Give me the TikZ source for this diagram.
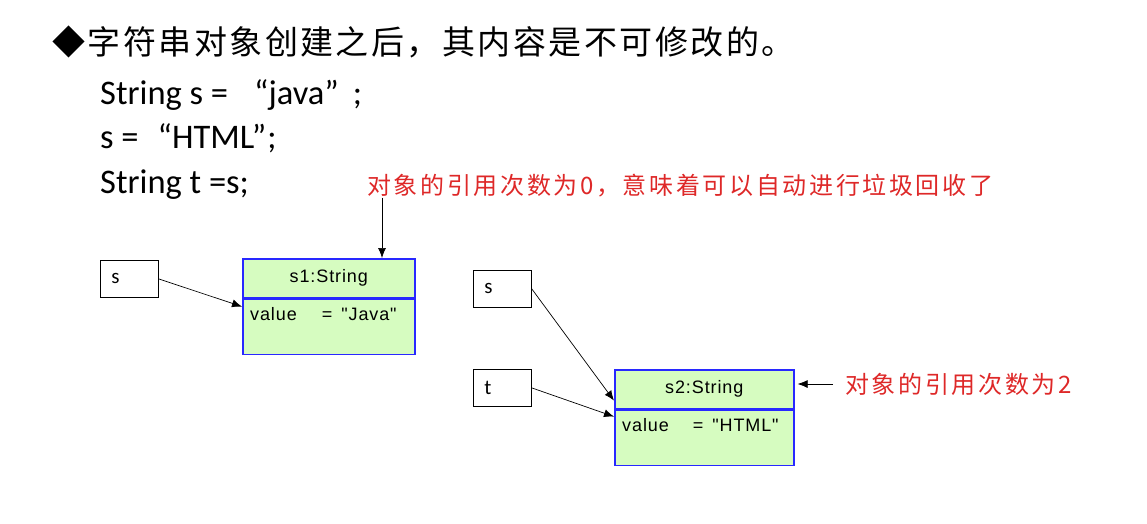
\documentclass[tikz,border=0pt]{standalone}
\usepackage{fontspec}
\setmainfont{Carlito}
\newfontfamily\cjk{Noto Sans CJK SC}
\newfontfamily\cjkwide[LetterSpace=11]{Noto Sans CJK SC}
\newfontfamily\cjktitle[LetterSpace=7.5]{Noto Sans CJK SC}
\newfontfamily\arial[LetterSpace=5]{Liberation Sans}
\usetikzlibrary{positioning,arrows.meta}
\definecolor{objblue}{RGB}{40,40,255}
\definecolor{objgreen}{RGB}{214,252,192}
\definecolor{notered}{RGB}{222,40,40}

\tikzset{
  varbox/.style={draw,line width=0.8pt,minimum width=58pt,minimum height=37pt,inner xsep=11pt,
    text width=36pt,align=left,font=\fontsize{21}{24}\selectfont},
  objhead/.style={draw=objblue,fill=objgreen,line width=1.6pt,minimum height=39pt,
    font=\arial\fontsize{18}{20}\selectfont},
  objbody/.style={draw=objblue,fill=objgreen,line width=1.6pt,minimum height=55pt,anchor=north},
  objval/.style={anchor=west,inner sep=0pt,font=\arial\fontsize{18}{20}\selectfont},
  codeline/.style={anchor=west,inner sep=0pt,font=\fontsize{34.5}{38}\selectfont},
  note/.style={anchor=west,inner sep=0pt,text=notered,font=\cjkwide\fontsize{24}{28}\selectfont},
  ref/.style={-{Latex[length=10pt,width=8pt]},line width=0.7pt}
}

\begin{document}
\begin{tikzpicture}[x=1pt,y=-1pt]
  \useasboundingbox (0,0) rectangle (1147,523);
  % heading and code
  \node [anchor=west,inner sep=0pt,font=\cjktitle\fontsize{33}{40}\selectfont] (title) at (52,42)
    {◆字符串对象创建之后，其内容是不可修改的。};
  \node [codeline] (code1) at (100,95) {String s =\hspace{26pt}“java”\hspace{14pt};};
  \node [codeline] (code2) at (100,138) {s =\hspace{19pt}“HTML”\hspace{1pt};};
  \node [codeline] (code3) at (100,185) {String t =s;};

  % first object
  \node [varbox,anchor=north west] (sL) at (100,260) {s};
  \node [objhead,minimum width=172pt,anchor=north west] (s1head) at (242,258) {s1:String};
  \node [objbody,minimum width=172pt] (s1body) at (s1head.south) {};
  \node [objval] (s1val) at ([xshift=8pt,yshift=-15pt]s1body.north west) {value\hspace{25pt}=\hspace{9pt}"Java"};
  \draw [ref] (sL.east) -- ([yshift=-8pt]s1body.north west);

  % second object
  \node [varbox,anchor=north west] (sR) at (473,270) {s};
  \node [varbox,anchor=north west] (tR) at (473,369) {t};
  \node [objhead,minimum width=179pt,anchor=north west] (s2head) at (614,369) {s2:String};
  \node [objbody,minimum width=179pt] (s2body) at (s2head.south) {};
  \node [objval] (s2val) at ([xshift=8pt,yshift=-15pt]s2body.north west) {value\hspace{24pt}=\hspace{9pt}"HTML"};
  \draw [ref] (sR.east) -- ([yshift=9pt]s2body.north west);
  \draw [ref] (tR.east) -- ([yshift=-7pt]s2body.north west);

  % notes
  \node [note] (note0) at (367,186) {对象的引用次数为0，意味着可以自动进行垃圾回收了};
  \draw [ref] ([xshift=15pt]note0.south west) -- ([xshift=15pt]note0.south west |- s1head.north);
  \node [note] (note2) at (845,384) {对象的引用次数为2};
  \draw [ref,shorten >=3pt] ([xshift=-12pt]note2.west) -- (note2.west -| s2head.east);
\end{tikzpicture}
\end{document}
